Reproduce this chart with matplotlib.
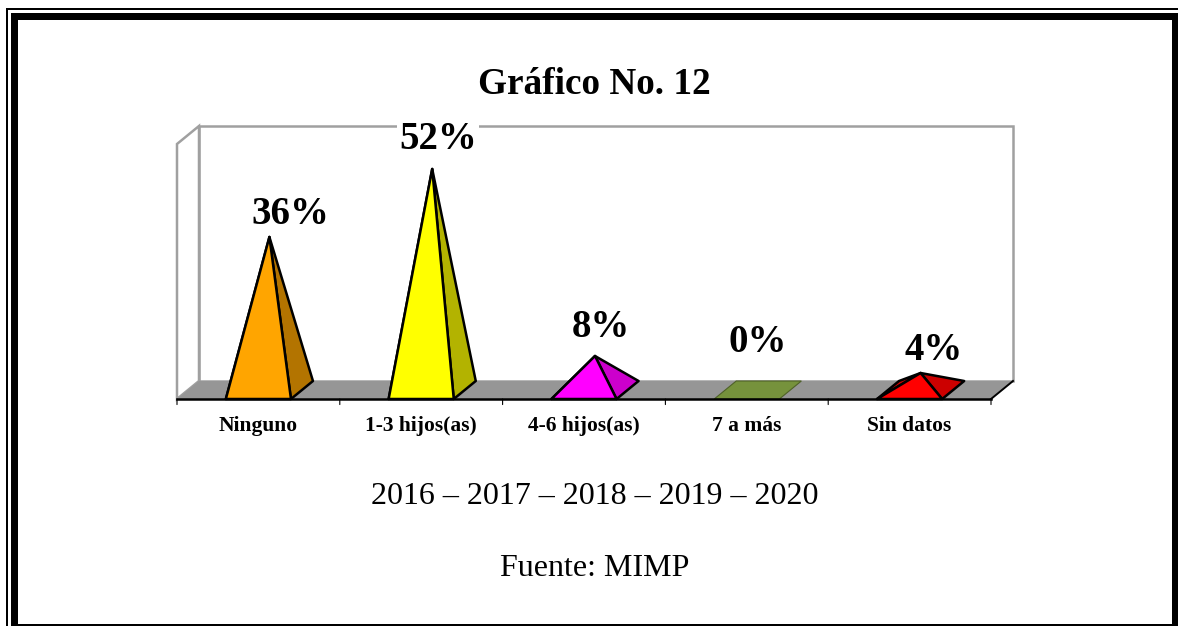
#!/usr/bin/env python3
# -*- coding: utf-8 -*-
from matplotlib import pyplot as plt
from matplotlib.patches import Polygon, Rectangle

# Data
categories = ['Ninguno', '1-3 hijos(as)', '4-6 hijos(as)', '7 a más', 'Sin datos']
values = [36, 52, 8, 0, 4]
value_labels = ['36%', '52%', '8%', '0%', '4%']
front_colors = ['#ffa500', '#ffff00', '#ff00ff', '#76923c', '#ff0000']
side_colors = ['#b37400', '#b3b300', '#cc00cc', '#76923c', '#cc0000']

W, H = 1178, 626
plt.rcParams['font.family'] = ['Liberation Serif', 'DejaVu Serif']

fig = plt.figure(figsize=(W / 100, H / 100), dpi=100, facecolor='white')

# page frame, thin line outside and thick line inside (pixels from top left)
def frame(x0, y0, x1, y1, lw_px, color='black'):
    fig.add_artist(Rectangle((x0 / W, 1 - y1 / H), (x1 - x0) / W, (y1 - y0) / H,
                             transform=fig.transFigure, fill=False,
                             edgecolor=color, linewidth=lw_px * 0.72))

frame(7, 9, 1190, 640, 2)
frame(13.5, 15.5, 1174.5, 626.5, 7)

# plot area, 0-60 % takes 255 px, depth is faked with an offset
ax = fig.add_axes([177 / W, 1 - 399 / H, 814 / W, 255 / H])
ax.set_xlim(-0.5, 4.5)
ax.set_ylim(0, 60)
ax.axis('off')

dx = 22 / 162.8
dy = 18 / 4.25
half_w = 0.2

wall = '#a0a0a0'
ax.add_patch(Polygon([(-0.5 + dx, dy), (4.5 + dx, dy), (4.5 + dx, 60 + dy), (-0.5 + dx, 60 + dy)],
                     closed=True, facecolor='white', edgecolor=wall, lw=1.8, clip_on=False, zorder=1))
ax.add_patch(Polygon([(-0.5, 0), (-0.5 + dx, dy), (-0.5 + dx, 60 + dy), (-0.5, 60)],
                     closed=True, facecolor='white', edgecolor=wall, lw=1.8, clip_on=False, zorder=1))
ax.add_patch(Polygon([(-0.5, 0), (4.5, 0), (4.5 + dx, dy), (-0.5 + dx, dy)],
                     closed=True, facecolor='#969696', edgecolor='none', clip_on=False, zorder=2))

# pyramids
edge = dict(edgecolor='black', lw=1.8, joinstyle='round', clip_on=False)
for i, v in enumerate(values):
    fl = (i - half_w, 0)
    fr = (i + half_w, 0)
    br = (i + half_w + dx, dy)
    bl = (i - half_w + dx, dy)
    apex = (i + dx / 2, dy / 2 + v)
    if v == 0:
        ax.add_patch(Polygon([fl, fr, br, bl], closed=True, facecolor=front_colors[i], zorder=3,
                             edgecolor='#4f6228', lw=0.8, clip_on=False))
        continue
    ax.add_patch(Polygon([fl, bl, apex], closed=True, facecolor=side_colors[i], zorder=3, **edge))
    ax.add_patch(Polygon([fr, br, apex], closed=True, facecolor=side_colors[i], zorder=4, **edge))
    ax.add_patch(Polygon([fl, fr, apex], closed=True, facecolor=front_colors[i], zorder=5, **edge))

# axis line and ticks
ax.plot([-0.5, 4.5], [0, 0], color='black', lw=1.8, clip_on=False, zorder=6)
ax.plot([4.5, 4.5 + dx], [0, dy], color='black', lw=1.4, clip_on=False, zorder=6)
for t in range(6):
    ax.annotate('', xy=(t - 0.5, 0), xytext=(0, -4), textcoords='offset points',
                arrowprops=dict(arrowstyle='-', color='black', lw=0.8, shrinkA=0, shrinkB=0),
                annotation_clip=False, zorder=6)

for i, name in enumerate(categories):
    ax.annotate(name, xy=(i, 0), xytext=(0, -19.2), textcoords='offset points',
                ha='center', va='center', fontsize=15.5, fontweight='bold',
                annotation_clip=False)

# value labels, offsets from pyramid tip in px (x, y)
label_off = [(21, 13), (6, 20), (6, 19), (0, 38), (13, 13)]
for i, v in enumerate(values):
    ax.annotate(value_labels[i], xy=(i + dx / 2, dy / 2 + v),
                xytext=(label_off[i][0] * 0.72, label_off[i][1] * 0.72),
                textcoords='offset points', ha='center', va='baseline',
                fontsize=28, fontweight='bold', annotation_clip=False, zorder=8,
                bbox=dict(facecolor='white', edgecolor='none', pad=1.5) if i == 1 else None)

fig.text(594.5 / W, 1 - 84.5 / H, 'Gráfico No. 12', ha='center', va='center', fontsize=26.8, fontweight='bold')
fig.text(594.5 / W, 1 - 496 / H, '2016 – 2017 – 2018 – 2019 – 2020', ha='center', va='center', fontsize=23)
fig.text(594.5 / W, 1 - 569 / H, 'Fuente: MIMP', ha='center', va='center', fontsize=23)

plt.savefig('out.png', dpi=100)
